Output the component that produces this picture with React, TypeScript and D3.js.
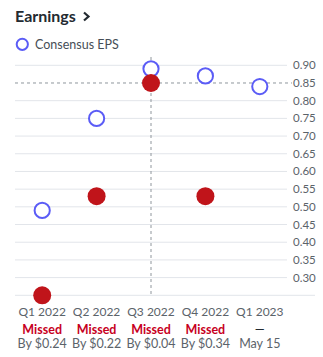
import React from "react";
import * as d3 from "d3";

const quarters = ["Q1 2022", "Q2 2022", "Q3 2022", "Q4 2022", "Q1 2023"];
const consensus = [0.49, 0.75, 0.89, 0.87, 0.84];
const actual: (number | null)[] = [0.25, 0.53, 0.85, 0.53, null];
const statusLabels = ["Missed", "Missed", "Missed", "Missed", "—"];
const subLabels = ["By $0.24", "By $0.22", "By $0.04", "By $0.34", "May 15"];
const yTicks = [0.3, 0.35, 0.4, 0.45, 0.5, 0.55, 0.6, 0.65, 0.7, 0.75, 0.8, 0.85, 0.9];
const highlightIndex = 2;

const W = 323;
const H = 357;
const FONT = "Lato, 'Noto Sans', sans-serif";

export default function App() {
  const x = d3.scaleBand<string>().domain(quarters).range([15, 287]).padding(0);
  const cx = (q: string) => (x(q) ?? 0) + x.bandwidth() / 2;
  const y = d3.scaleLinear().domain([0.25, 0.9]).range([295.3, 65.3]);
  const hq = quarters[highlightIndex];
  const hv = actual[highlightIndex] as number;

  return (
    <div style={{ position: "absolute", left: 0, top: 0 }}>
      <svg width={W} height={H} style={{ display: "block", fontFamily: FONT }}>
        <rect width={W} height={H} fill="#fff" />
        <text x={15} y={22} fontSize={16} fontWeight={700} fill="#232a31">
          Earnings
        </text>
        <path d="M84 12.5 L88.5 16.5 L84 20.5" fill="none" stroke="#232a31" strokeWidth={2.2} />
        <circle cx={22.3} cy={44.3} r={5.6} fill="none" stroke="#5b5cf6" strokeWidth={2} />
        <text x={35} y={48.5} fontSize={12.5} fill="#464e56">
          Consensus EPS
        </text>

        {yTicks.map((t) => (
          <g key={t}>
            {Math.abs(t - hv) > 1e-9 && (
              <line x1={15} x2={287} y1={y(t)} y2={y(t)} stroke="#e2e5ea" strokeWidth={1} />
            )}
            <text x={293} y={y(t) + 4} fontSize={11.5} fill="#5b636a">
              {t.toFixed(2)}
            </text>
          </g>
        ))}
        <line x1={15} x2={315} y1={y(0.25)} y2={y(0.25)} stroke="#e2e5ea" strokeWidth={1} />

        <line x1={15} x2={292} y1={y(hv)} y2={y(hv)} stroke="#8f969c" strokeWidth={1} strokeDasharray="3,3" />
        <line x1={cx(hq)} x2={cx(hq)} y1={57} y2={y(0.25)} stroke="#8f969c" strokeWidth={1} strokeDasharray="3,3" />

        {quarters.map((q, i) => (
          <circle key={"c" + q} cx={cx(q)} cy={y(consensus[i])} r={7.6} fill="#fff" stroke="#5b5cf6" strokeWidth={2} />
        ))}
        {quarters.map((q, i) =>
          actual[i] == null ? null : (
            <circle key={"a" + q} cx={cx(q)} cy={y(actual[i] as number)} r={9} fill="#c0141a" />
          )
        )}

        {quarters.map((q, i) => (
          <g key={"l" + q}>
            <text x={cx(q)} y={315.5} textAnchor="middle" fontSize={12} fill="#5b636a">
              {q}
            </text>
            <text
              x={cx(q)}
              y={334}
              textAnchor="middle"
              fontSize={12.5}
              fontWeight={statusLabels[i] === "Missed" ? 700 : 400}
              fill={statusLabels[i] === "Missed" ? "#c7001e" : "#232a31"}
            >
              {statusLabels[i]}
            </text>
            <text x={cx(q)} y={347.5} textAnchor="middle" fontSize={12.5} fill="#5b636a">
              {subLabels[i]}
            </text>
          </g>
        ))}
      </svg>
    </div>
  );
}
